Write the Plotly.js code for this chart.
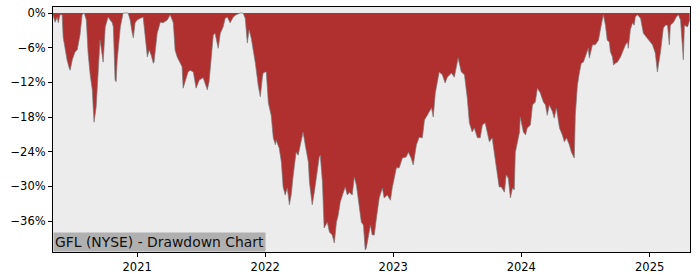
<!DOCTYPE html>
<html>
<head>
<meta charset="utf-8">
<script src="https://cdn.plot.ly/plotly-3.0.1.min.js"></script>
<style>
  html, body { margin: 0; padding: 0; background: #ffffff; }
  #chart { width: 700px; height: 280px; }
</style>
</head>
<body>
<div id="chart"></div>
<script>
const dates = [
  '2020-05-06','2020-05-09','2020-05-12','2020-05-18','2020-05-21','2020-05-26','2020-06-01','2020-06-04','2020-06-10','2020-06-15',
  '2020-06-21','2020-06-24','2020-06-30','2020-07-08','2020-07-14','2020-07-17','2020-07-22','2020-07-28','2020-08-03','2020-08-09',
  '2020-08-14','2020-08-20','2020-08-26','2020-08-29','2020-08-31','2020-09-06','2020-09-12','2020-09-17','2020-09-20','2020-09-26',
  '2020-10-02','2020-10-10','2020-10-16','2020-10-22','2020-10-25','2020-10-30','2020-11-02','2020-11-05','2020-11-14','2020-11-22',
  '2020-12-06','2020-12-12','2020-12-18','2020-12-21','2020-12-26','2021-01-01','2021-01-10','2021-01-18','2021-01-30','2021-02-04',
  '2021-02-10','2021-02-16','2021-02-18','2021-02-27','2021-03-08','2021-03-16','2021-03-28','2021-04-05','2021-04-14','2021-04-19',
  '2021-04-25','2021-05-04','2021-05-09','2021-05-12','2021-05-18','2021-05-26','2021-06-01','2021-06-10','2021-06-18','2021-06-27',
  '2021-07-08','2021-07-20','2021-07-25','2021-07-31','2021-08-06','2021-08-11','2021-08-17','2021-08-20','2021-08-26','2021-09-03',
  '2021-09-09','2021-09-15','2021-09-23','2021-10-02','2021-10-10','2021-10-22','2021-10-30','2021-11-05','2021-11-11','2021-11-16',
  '2021-11-22','2021-12-04','2021-12-12','2021-12-18','2021-12-24','2021-12-26','2022-01-01','2022-01-04','2022-01-10','2022-01-18',
  '2022-01-24','2022-01-30','2022-02-01','2022-02-10','2022-02-16','2022-02-21','2022-02-27','2022-03-05','2022-03-11','2022-03-16',
  '2022-03-22','2022-03-30','2022-04-05','2022-04-14','2022-04-19','2022-04-25','2022-05-04','2022-05-07','2022-05-15','2022-05-21',
  '2022-05-27','2022-06-04','2022-06-07','2022-06-13','2022-06-18','2022-06-27','2022-07-03','2022-07-11','2022-07-17','2022-07-23',
  '2022-07-28','2022-08-03','2022-08-12','2022-08-17','2022-08-23','2022-08-29','2022-09-06','2022-09-12','2022-09-18','2022-09-26',
  '2022-10-02','2022-10-08','2022-10-13','2022-10-16','2022-10-22','2022-10-28','2022-11-02','2022-11-08','2022-11-14','2022-11-22',
  '2022-12-01','2022-12-06','2022-12-15','2022-12-24','2022-12-29','2023-01-10','2023-01-18','2023-01-27','2023-02-07','2023-02-13',
  '2023-02-21','2023-02-27','2023-03-08','2023-03-16','2023-03-25','2023-03-31','2023-04-08','2023-04-20','2023-04-25','2023-05-01',
  '2023-05-12','2023-05-21','2023-05-29','2023-06-04','2023-06-16','2023-06-24','2023-07-05','2023-07-14','2023-07-23','2023-07-31',
  '2023-08-06','2023-08-14','2023-08-20','2023-08-29','2023-09-06','2023-09-12','2023-09-20','2023-09-26','2023-10-02','2023-10-10',
  '2023-10-19','2023-10-25','2023-10-30','2023-11-05','2023-11-14','2023-11-19','2023-11-25','2023-12-01','2023-12-07','2023-12-12',
  '2023-12-15','2023-12-27','2023-12-29','2024-01-07','2024-01-13','2024-01-18','2024-01-27','2024-02-02','2024-02-10','2024-02-16',
  '2024-02-24','2024-03-04','2024-03-10','2024-03-15','2024-03-21','2024-03-30','2024-04-04','2024-04-10','2024-04-19','2024-04-27',
  '2024-05-03','2024-05-09','2024-05-17','2024-05-23','2024-05-31','2024-06-03','2024-06-09','2024-06-15','2024-06-20','2024-06-26',
  '2024-07-05','2024-07-10','2024-07-13','2024-07-22','2024-07-30','2024-08-08','2024-08-16','2024-08-22','2024-08-28','2024-09-02',
  '2024-09-08','2024-09-11','2024-09-17','2024-09-20','2024-09-25','2024-10-01','2024-10-10','2024-10-18','2024-10-24','2024-10-30',
  '2024-11-01','2024-11-07','2024-11-13','2024-11-18','2024-11-21','2024-11-27','2024-12-06','2024-12-14','2024-12-20','2024-12-28',
  '2025-01-09','2025-01-17','2025-01-23','2025-01-26','2025-02-01','2025-02-09','2025-02-15','2025-02-21','2025-02-26','2025-03-01',
  '2025-03-10','2025-03-18','2025-03-24','2025-03-30','2025-04-07','2025-04-10','2025-04-19','2025-04-25'
];
const drawdown = [
  -0.3,-1.2,-1.6,-0.7,-1.7,-0.3,-0.3,-4.2,-6.4,-8.1,
  -9.5,-9.9,-8.1,-6.7,-6.4,-5.5,-3.8,-0.3,0,-1.2,
  -6.9,-10.7,-13.3,-16.8,-18.9,-16.3,-9.3,-4.7,-5.9,-8.5,
  -2.4,-0.7,-1.2,-1.7,-2.4,-11.6,-11.9,-8.1,-2.4,0,
  0,-1.2,-3.5,-4.3,-1.7,-1.2,-0.9,-0.7,-7.6,-6.4,
  -7.3,-8.7,-8.5,-3.5,-1.6,-1.7,-1.2,-0.3,-1.7,-6.4,
  -7.6,-8.7,-9.3,-13.0,-11.6,-10.2,-9.9,-10.2,-13.0,-11.6,
  -11.2,-13.3,-11.9,-8.1,-3.8,-3.5,-5.5,-6.1,-3.5,-2.4,
  -0.9,-0.7,-1.7,-0.7,-0.3,0,0,-0.9,-5.2,-2.9,
  -4.3,-8.7,-12.5,-14.5,-11.1,-10.4,-10.2,-10.2,-15.6,-17.7,
  -21.6,-22.8,-22.0,-23.4,-25.8,-30.1,-31.5,-30.3,-33.2,-31.5,
  -28.0,-24.1,-24.6,-21.6,-20.6,-22.8,-25.8,-29.2,-33.2,-31.0,
  -28.0,-24.9,-24.6,-29.2,-37.2,-36.2,-37.9,-38.4,-39.8,-36.2,
  -35.0,-32.7,-31.0,-30.1,-31.5,-31.0,-31.5,-28.4,-29.8,-33.7,
  -36.2,-36.7,-41.0,-40.7,-38.9,-36.7,-38.4,-38.4,-35.5,-32.0,
  -30.3,-32.0,-31.5,-32.4,-30.3,-26.8,-26.8,-25.1,-24.9,-24.1,
  -25.1,-26.3,-22.8,-21.5,-21.6,-18.5,-17.7,-16.4,-18.0,-13.8,
  -10.2,-10.7,-12.1,-11.1,-10.4,-11.1,-7.8,-10.2,-10.7,-14.7,
  -19.0,-20.6,-19.9,-21.6,-21.6,-19.4,-19.0,-20.6,-22.3,-21.6,
  -25.1,-27.5,-30.1,-30.1,-31.0,-28.0,-28.6,-32.0,-30.3,-30.6,
  -24.1,-20.6,-18.0,-20.6,-21.1,-19.9,-19.4,-15.9,-15.4,-13.0,
  -13.8,-15.4,-15.9,-17.7,-15.9,-17.1,-18.2,-16.4,-19.9,-21.1,
  -22.3,-21.6,-22.8,-24.1,-25.1,-17.7,-12.5,-10.2,-8.7,-8.5,
  -6.7,-6.1,-7.8,-5.5,-5.5,-4.7,-2.1,-0.3,-2.1,-4.7,
  -5.0,-6.7,-7.6,-9.0,-8.7,-8.5,-7.6,-6.4,-5.5,-5.0,
  -6.1,-2.9,-1.7,-2.1,-0.7,-0.3,-0.9,-3.5,-4.0,-4.7,
  -5.5,-6.9,-10.2,-9.0,-6.7,-2.6,-2.1,-2.1,-5.5,-2.1,
  -1.6,-0.7,-0.3,-1.2,-8.1,-2.1,-2.4,-1.2
];
const yTickVals = [0, -6, -12, -18, -24, -30, -36];
const yTickText = ['0%', '\u22126%', '\u221212%', '\u221218%', '\u221224%', '\u221230%', '\u221236%'];
const xTickVals = ['2021-01-01', '2022-01-01', '2023-01-01', '2024-01-01', '2025-01-01'];
const xTickText = ['2021', '2022', '2023', '2024', '2025'];
const xRange = ['2020-05-06', '2025-04-26'];
const yRange = [-41.36, 1.04];
const chartLabel = 'GFL (NYSE) - Drawdown Chart';

const trace = {
  x: dates,
  y: drawdown,
  type: 'scatter',
  mode: 'lines',
  fill: 'tozeroy',
  fillcolor: '#b03030',
  line: { color: 'rgba(120,120,120,0.85)', width: 0.8 },
  hoverinfo: 'skip'
};

const axisCommon = {
  showline: true,
  linecolor: '#000000',
  linewidth: 1,
  mirror: true,
  showgrid: false,
  zeroline: false,
  ticks: 'outside',
  ticklen: 4,
  tickwidth: 1,
  tickcolor: '#000000',
  tickfont: { family: 'DejaVu Sans', size: 11.5, color: '#000000' }
};

const layout = {
  width: 700,
  height: 280,
  margin: { l: 53, r: 10, t: 7, b: 28 },
  paper_bgcolor: '#ffffff',
  plot_bgcolor: '#ececec',
  showlegend: false,
  xaxis: Object.assign({}, axisCommon, {
    type: 'date',
    range: xRange,
    tickmode: 'array',
    tickvals: xTickVals,
    ticktext: xTickText
  }),
  yaxis: Object.assign({}, axisCommon, {
    range: yRange,
    tickmode: 'array',
    tickvals: yTickVals,
    ticktext: yTickText
  }),
  annotations: [{
    text: chartLabel,
    xref: 'paper', yref: 'paper',
    x: 0, y: 0,
    xanchor: 'left', yanchor: 'bottom',
    showarrow: false,
    bgcolor: '#b0b0b0',
    borderpad: 1,
    font: { family: 'DejaVu Sans', size: 13.9, color: '#111111' }
  }]
};

Plotly.newPlot('chart', [trace], layout, { displayModeBar: false, staticPlot: true });
</script>
</body>
</html>
